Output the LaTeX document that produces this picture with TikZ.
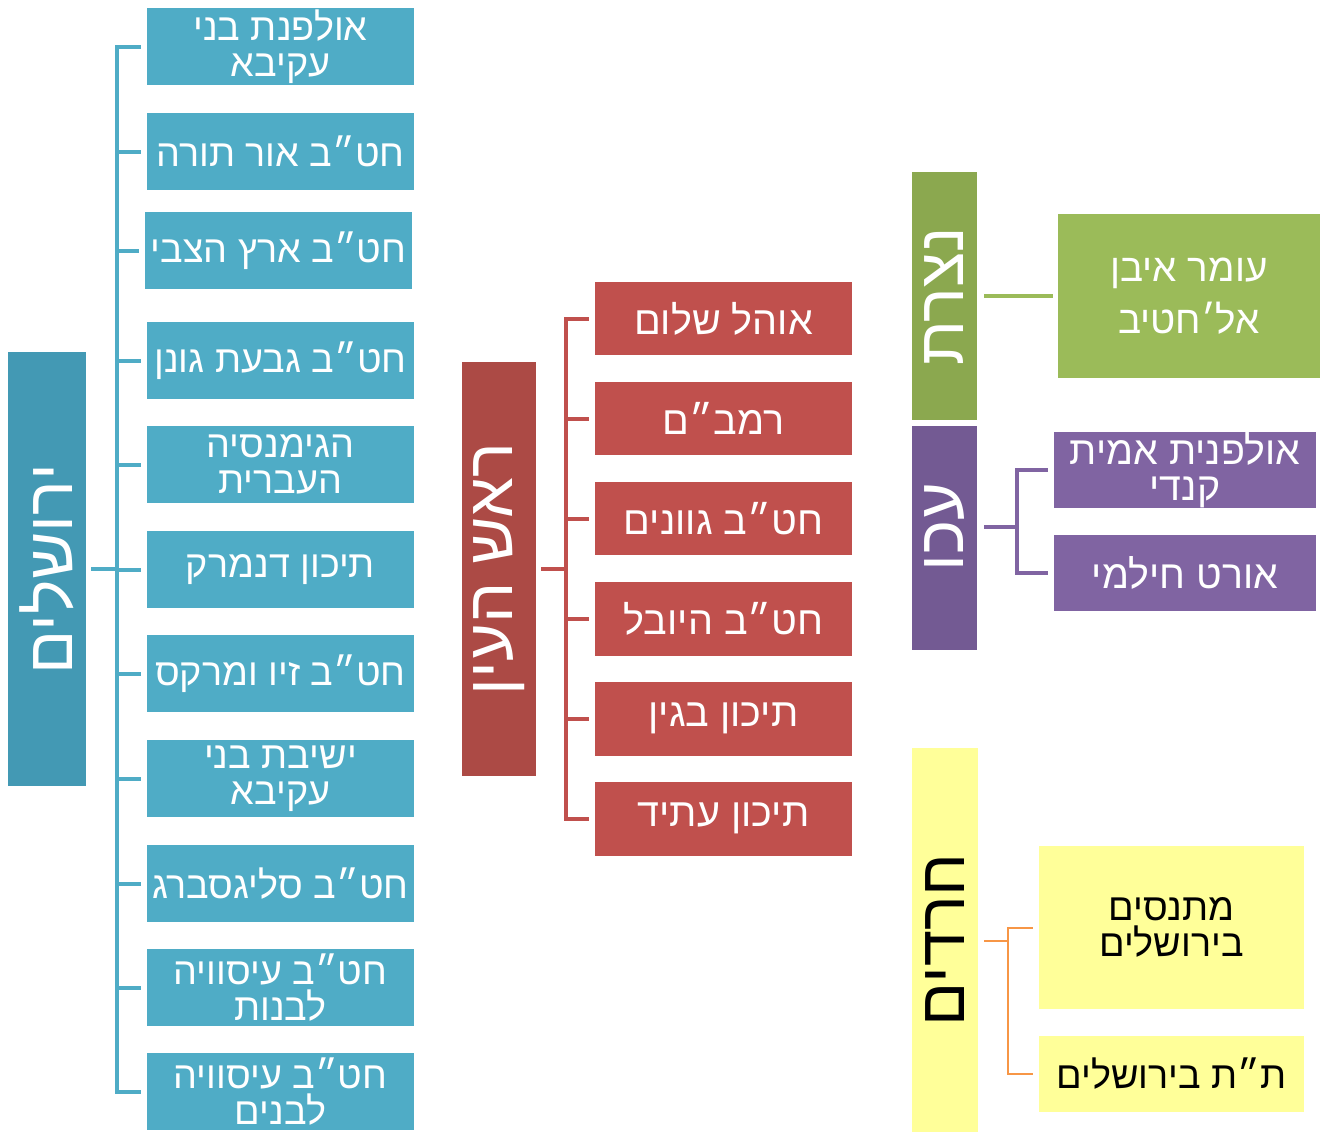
\documentclass[tikz,border=0pt]{standalone}
\usepackage{fontspec}
\newfontfamily\hebfont[Script=Hebrew]{Liberation Sans}
\TeXXeTstate=1
\lineskiplimit=-50pt

\definecolor{jerroot}{HTML}{4399B4}
\definecolor{jerkid}{HTML}{4FACC6}
\definecolor{roshroot}{HTML}{AC4A45}
\definecolor{roshkid}{HTML}{C0504D}
\definecolor{nazroot}{HTML}{8BA84F}
\definecolor{nazkid}{HTML}{9BBB59}
\definecolor{akkoroot}{HTML}{735A93}
\definecolor{akkokid}{HTML}{8064A2}
\definecolor{haredifill}{HTML}{FFFF99}
\definecolor{haredilink}{HTML}{F79646}

\tikzset{
    rootbox/.style={fill=#1, rotate=90, inner sep=0pt, text=white,
        font=\hebfont\fontsize{37pt}{40pt}\selectfont},
    kidbox/.style={fill=#1, inner sep=0pt, align=center, text=white},
    kidfont/.style={font=\hebfont\fontsize{#1}{20.5pt}\selectfont},
    jerbox/.style={kidbox=jerkid, kidfont=21.5pt, minimum width=5.34cm, minimum height=1.54cm},
    roshbox/.style={kidbox=roshkid, kidfont=22.5pt, minimum width=5.14cm, minimum height=1.48cm},
    akkobox/.style={kidbox=akkokid, kidfont=22.4pt, minimum width=5.24cm, minimum height=1.52cm},
    haredibox/.style={kidbox=haredifill, kidfont=21.5pt, text=black, minimum width=5.3cm},
    link/.style={line width=#1},
}

\begin{document}
\begin{tikzpicture}[x=0.02cm, y=-0.02cm]
\useasboundingbox (0,0) rectangle (1330,1133);

% ירושלים
\node[rootbox=jerroot, minimum width=8.68cm, minimum height=1.56cm] (jer) at (47,569) {\beginR ירושלים\endR};
\node[jerbox] (jer1) at (280.5,46.5) {\beginR אולפנת בני\endR\\\beginR עקיבא\endR};
\node[jerbox] (jer2) at (280.5,151.5) {\beginR חט״ב אור תורה\endR};
\node[jerbox] (jer3) at (278.5,250.5) {\beginR חט״ב ארץ הצבי\endR};
\node[jerbox] (jer4) at (280.5,360.5) {\beginR חט״ב גבעת גונן\endR};
\node[jerbox] (jer5) at (280.5,464.5) {\beginR הגימנסיה\endR\\\beginR העברית\endR};
\node[jerbox] (jer6) at (280.5,569.5) {\beginR תיכון דנמרק\endR};
\node[jerbox] (jer7) at (280.5,673.5) {\beginR חט״ב זיו ומרקס\endR};
\node[jerbox] (jer8) at (280.5,778.5) {\beginR ישיבת בני\endR\\\beginR עקיבא\endR};
\node[jerbox] (jer9) at (280.5,883.5) {\beginR חט״ב סליגסברג\endR};
\node[jerbox] (jer10) at (280.5,987.5) {\beginR חט״ב עיסוויה\endR\\\beginR לבנות\endR};
\node[jerbox] (jer11) at (280.5,1091.5) {\beginR חט״ב עיסוויה\endR\\\beginR לבנים\endR};

\coordinate (jerfork) at (117,569);
\draw[link=0.08cm, jerkid, shorten <=0.1cm] (jer.south) -- (jerfork);
\foreach \k in {1,...,11}
    \draw[link=0.08cm, jerkid, shorten >=0.12cm] (jerfork) |- (jer\k.west);

% ראש העין
\node[rootbox=roshroot, minimum width=8.28cm, minimum height=1.48cm] (rosh) at (499,569) {\beginR ראש העין\endR};
\node[roshbox] (rosh1) at (723.5,318.5) {\beginR אוהל שלום\endR};
\node[roshbox] (rosh2) at (723.5,418.5) {\beginR רמב״ם\endR};
\node[roshbox] (rosh3) at (723.5,518.5) {\beginR חט״ב גוונים\endR};
\node[roshbox] (rosh4) at (723.5,618.5) {\beginR חט״ב היובל\endR};
\node[roshbox] (rosh5) at (723.5,718.5) {\beginR תיכון בגין\endR};
\node[roshbox] (rosh6) at (723.5,818.5) {\beginR תיכון עתיד\endR};

\coordinate (roshfork) at (566,569);
\draw[link=0.08cm, roshkid, shorten <=0.1cm] (rosh.south) -- (roshfork);
\foreach \k in {1,...,6}
    \draw[link=0.08cm, roshkid, shorten >=0.12cm] (roshfork) |- (rosh\k.west);

% נצרת
\node[rootbox=nazroot, minimum width=4.96cm, minimum height=1.3cm] (naz) at (944.5,296) {\beginR נצרת\endR};
\node[kidbox=nazkid, font=\hebfont\fontsize{22pt}{29.5pt}\selectfont, minimum width=5.24cm, minimum height=3.28cm] (naz1) at (1189,296) {\beginR עומר איבן\endR\\\beginR אל׳חטיב\endR};
\draw[link=0.08cm, nazkid, shorten <=0.14cm, shorten >=0.1cm] (naz.south) -- (naz1.west);

% עכו
\node[rootbox=akkoroot, minimum width=4.48cm, minimum height=1.3cm] (akko) at (944.5,538) {\hspace{0.44cm}\beginR עכו\endR};
\node[akkobox] (akko1) at (1185,470) {\beginR אולפנית אמית\endR\\\beginR קנדי\endR};
\node[akkobox] (akko2) at (1185,572.5) {\beginR אורט חילמי\endR};

\coordinate (akkofork) at (1017,527);
\draw[link=0.08cm, akkokid, shorten <=0.14cm] (akkofork -| akko.south) -- (akkofork);
\foreach \k in {1,2}
    \draw[link=0.08cm, akkokid, shorten >=0.12cm] (akkofork) |- (akko\k.west);

% חרדים
\node[rootbox=haredifill, text=black, minimum width=7.68cm, minimum height=1.32cm] (haredi) at (945,940) {\beginR חרדים\endR};
\node[haredibox, minimum height=3.26cm] (haredi1) at (1171.5,927.5) {\beginR מתנסים\endR\\\beginR בירושלים\endR};
\node[haredibox, minimum height=1.52cm] (haredi2) at (1171.5,1074) {\beginR ת״ת בירושלים\endR};

\coordinate (haredifork) at (1008,941);
\draw[link=0.04cm, haredilink, shorten <=0.12cm] (haredifork -| haredi.south) -- (haredifork);
\foreach \k in {1,2}
    \draw[link=0.04cm, haredilink, shorten >=0.12cm] (haredifork) |- (haredi\k.west);
\end{tikzpicture}
\end{document}
